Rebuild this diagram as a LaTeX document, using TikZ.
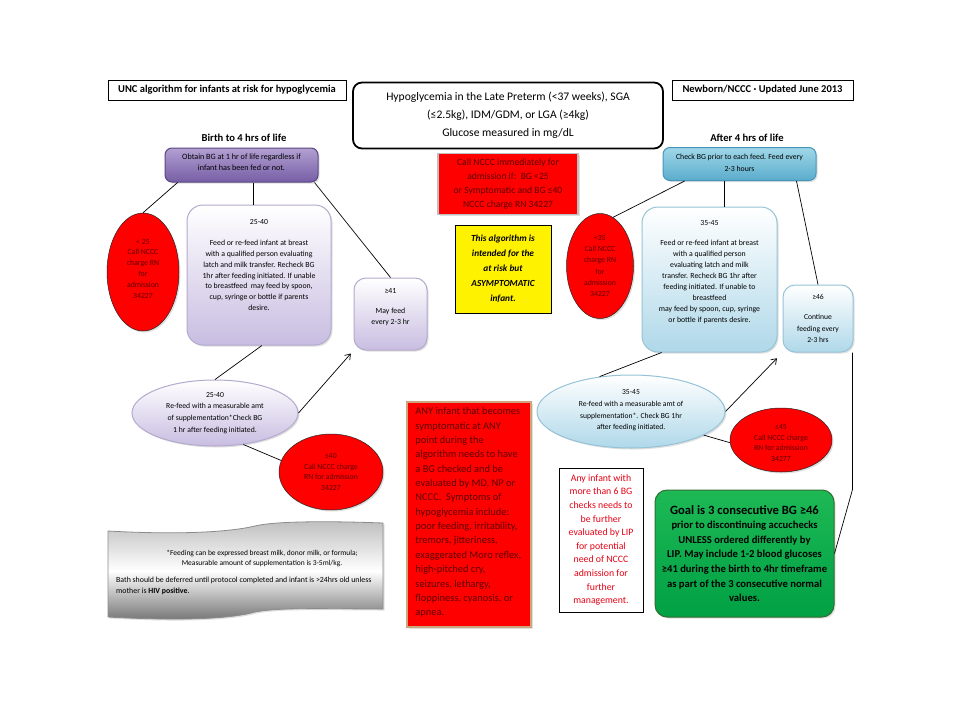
\documentclass[tikz,border=0pt]{standalone}
\usepackage{fontspec}
\setmainfont{Carlito}
\usetikzlibrary{shapes.geometric,arrows.meta,shadows,calc}
\definecolor{maroon}{RGB}{92,0,0}
\definecolor{redtxt}{RGB}{230,0,20}
\definecolor{purpT}{RGB}{178,160,210}
\definecolor{purpB}{RGB}{118,94,165}
\definecolor{purpD}{RGB}{90,70,130}
\definecolor{lavB}{RGB}{200,189,225}
\definecolor{lavD}{RGB}{180,170,205}
\definecolor{blueT}{RGB}{160,215,232}
\definecolor{blueB}{RGB}{90,172,204}
\definecolor{blueD}{RGB}{70,150,185}
\definecolor{lblueB}{RGB}{175,216,233}
\definecolor{lblueD}{RGB}{150,195,215}
\definecolor{grnT}{RGB}{30,185,85}
\definecolor{grnB}{RGB}{0,160,68}
\definecolor{grnD}{RGB}{50,110,50}
\definecolor{tanb}{RGB}{205,165,125}
\tikzset{
  conn/.style={draw=black, line width=0.7pt},
  arr/.style={conn, -{Straight Barb[length=5pt,width=7pt]}},
  tiny/.style={font=\fontsize{7.8}{10.8}\selectfont},
  shad/.style={drop shadow={opacity=.25, shadow xshift=1.5pt, shadow yshift=-1.5pt}},
  titlebox/.style={draw, line width=0.6pt, inner sep=0pt, font=\bfseries\fontsize{10.5}{12}\selectfont},
  heading/.style={font=\bfseries\fontsize{10.6}{12}\selectfont, inner sep=0pt},
  redell/.style={ellipse, draw=black!85, line width=0.5pt, fill=red, inner sep=0pt, shad},
  redlbl/.style={tiny, text=maroon, align=center, inner sep=0pt},
  lavbox/.style={draw=lavD, line width=1pt, top color=white, bottom color=lavB, inner sep=0pt, shad},
  lblbox/.style={draw=lblueD, line width=1pt, top color=white, bottom color=lblueB, inner sep=0pt, shad},
  boxlbl/.style={tiny, align=center, inner sep=0pt},
}
\begin{document}
\begin{tikzpicture}[x=1pt,y=-1pt]
\useasboundingbox (0,0) rectangle (960,720);
\fill[white] (0,0) rectangle (960,720);

% ---------- header ----------
\node[titlebox, minimum width=238pt, minimum height=20pt] (unc) at (227,90) {UNC algorithm for infants at risk for hypoglycemia};
\node[titlebox, minimum width=181pt, minimum height=20pt] (nb) at (762.5,90) {Newborn/NCCC · Updated June 2013};
\node[draw, line width=1.8pt, rounded corners=9pt, minimum width=310pt, minimum height=66pt, inner sep=0pt, align=center,
      font=\fontsize{11.6}{18}\selectfont] (hdr) at (508,115.5)
  {Hypoglycemia in the Late Preterm (<37 weeks), SGA\\(≤2.5kg), IDM/GDM, or LGA (≥4kg)\\Glucose measured in mg/dL};

\node[heading] (birth) at (244,138) {Birth to 4 hrs of life};
\node[heading] (after) at (747,138) {After 4 hrs of life};

% ---------- left tree ----------
\node[draw=purpD, line width=1pt, rounded corners=7pt, top color=purpT, bottom color=purpB, minimum width=153pt, minimum height=34pt, inner sep=0pt, shad,
      label={[boxlbl, font=\fontsize{8.1}{11}\selectfont, yshift=2.5pt]center:{Obtain BG at 1 hr of life regardless if\\infant has been fed or not.}}] (obtain) at (241.5,165) {};

\node[redell, minimum width=72pt, minimum height=118pt,
      label={[redlbl, yshift=3.5pt]center:{< 25\\Call NCCC\\charge RN\\for\\admission\\34227}}] (r25) at (143,272) {};

\node[lavbox, rounded corners=16pt, minimum width=144pt, minimum height=140pt,
      label={[boxlbl, yshift=10pt]center:{25-40\\[10.5pt]Feed or re-feed infant at breast\\with a qualified person evaluating\\latch and milk transfer. Recheck BG\\1hr after feeding initiated. If unable\\to breastfeed\ \ may feed by spoon,\\cup, syringe or bottle if parents\\desire.}}] (lb) at (259,275) {};

\node[lavbox, rounded corners=12pt, minimum width=73pt, minimum height=72pt,
      label={[boxlbl, yshift=7pt]center:{≥41\\[9pt]May feed\\every 2-3 hr}}] (b41) at (390.5,314) {};

\node[ellipse, draw=lavD, line width=1pt, top color=white, bottom color=lavB, minimum width=166pt, minimum height=66pt, inner sep=0pt, shad,
      label={[boxlbl, font=\fontsize{7.7}{11.7}\selectfont]center:{25-40\\Re-feed with a measurable amt\\of supplementation*Check BG\\1 hr after feeding initiated.}}] (le) at (215,413) {};

\node[redell, minimum width=104pt, minimum height=76pt,
      label={[redlbl]center:{≤40\\Call NCCC charge\\RN for admission\\34227}}] (r40) at (331,472) {};

\draw[conn] ($(obtain.south west)!0.085!(obtain.south east)$) -- (r25.north);
\draw[conn] ($(obtain.south west)!0.575!(obtain.south east)$) coordinate (o2) -- (o2 |- lb.north);
\draw[conn] ($(obtain.south west)!0.974!(obtain.south east)$) -- (b41.north);
\draw[conn] ($(lb.south west)!0.52!(lb.south east)$) -- (le.north);
\draw[arr, shorten >=4pt] (le.east) -- (b41.south west);
\draw[conn] (le.-48) -- (r40.167);

% ---------- middle ----------
\node[draw=black!25, line width=1.5pt, fill=red, minimum width=140pt, minimum height=61pt, inner sep=0pt, align=center, shad,
      text=maroon, font=\fontsize{9.6}{14}\selectfont] (callbox) at (508,184)
  {Call NCCC immediately for\\admission if:\ \ BG <25\\or Symptomatic and BG ≤40\\NCCC charge RN 34227};

\node[draw=black, line width=0.8pt, fill=yellow, minimum width=96pt, minimum height=88pt, inner sep=0pt, align=center,
      font=\bfseries\itshape\fontsize{9.3}{15}\selectfont] (yel) at (503,269)
  {This algorithm is\\intended for the\\at risk but\\ASYMPTOMATIC\\infant.};

\node[draw=tanb, line width=1.5pt, fill=red, minimum width=124pt, minimum height=225pt, inner sep=0pt, shad,
      label={[anchor=west, xshift=9pt, yshift=2pt, align=left, inner sep=0pt, text=maroon, font=\fontsize{10.4}{14.35}\selectfont]west:{ANY infant that becomes\\symptomatic at ANY\\point during the\\algorithm needs to have\\a BG checked and be\\evaluated by MD, NP or\\NCCC.\ \ Symptoms of\\hypoglycemia include:\\poor feeding, irritability,\\tremors, jitteriness,\\exaggerated Moro reflex,\\high-pitched cry,\\seizures, lethargy,\\floppiness, cyanosis, or\\apnea.}}] (anybox) at (469,514.5) {};

\node[draw=black, line width=0.8pt, fill=white, minimum width=84pt, minimum height=144pt, inner sep=0pt, align=center,
      text=redtxt, font=\fontsize{9.8}{13.6}\selectfont] (anyinf) at (601,540)
  {Any infant with\\more than 6 BG\\checks needs to\\be further\\evaluated by LIP\\for potential\\need of NCCC\\admission for\\further\\management.};

% ---------- right tree ----------
\node[draw=blueD, line width=1pt, rounded corners=7pt, top color=blueT, bottom color=blueB, minimum width=153pt, minimum height=33pt, inner sep=0pt, shad,
      label={[boxlbl, font=\fontsize{7.8}{12}\selectfont, yshift=1pt]center:{Check BG prior to each feed. Feed every\\2-3 hours}}] (check) at (739.5,164) {};

\node[redell, minimum width=67pt, minimum height=105pt,
      label={[redlbl, font=\fontsize{7.8}{11.2}\selectfont]center:{<35\\Call NCCC\\charge RN\\for\\admission\\34227}}] (r35) at (600,266) {};

\node[lblbox, rounded corners=16pt, minimum width=135pt, minimum height=145pt,
      label={[boxlbl, font=\fontsize{7.8}{11}\selectfont, yshift=7pt]center:{35-45\\[9pt]Feed or re-feed infant at breast\\with a qualified person\\evaluating latch and milk\\transfer. Recheck BG 1hr after\\feeding initiated. If unable to\\breastfeed\\may feed by spoon, cup, syringe\\or bottle if parents desire.}}] (rb) at (709.5,279.5) {};

\node[lblbox, rounded corners=12pt, minimum width=70pt, minimum height=67pt,
      label={[boxlbl, font=\fontsize{7.6}{11.5}\selectfont]center:{≥46\\[9pt]Continue\\feeding every\\2-3 hrs}}] (b46) at (818,318.5) {};

\node[ellipse, draw=lblueD, line width=1pt, top color=white, bottom color=lblueB, minimum width=188pt, minimum height=73pt, inner sep=0pt, shad,
      label={[boxlbl, font=\fontsize{7.6}{11.7}\selectfont, yshift=1pt]center:{35-45\\Re-feed with a measurable amt of\\supplementation*. Check BG 1hr\\after feeding initiated.}}] (re) at (631,411.5) {};

\node[redell, minimum width=102pt, minimum height=64pt,
      label={[redlbl, yshift=-3pt]center:{≤45\\Call NCCC charge\\RN for admission\\34277}}] (r45) at (781,440) {};

\node[draw=grnD, line width=1pt, rounded corners=12pt, top color=grnT, bottom color=grnB, minimum width=179pt, minimum height=127pt, inner sep=0pt, align=center, shad,
      font=\bfseries\fontsize{10.6}{14.6}\selectfont] (goal) at (744.5,553.5)
  {{\fontsize{12.6}{14.6}\selectfont Goal is 3 consecutive BG ≥46}\\prior to discontinuing accuchecks\\UNLESS ordered differently by\\LIP. May include 1-2 blood glucoses\\≥41 during the birth to 4hr timeframe\\as part of the 3 consecutive normal\\values.};

\draw[conn] ($(check.south west)!0.144!(check.south east)$) -- (r35.75);
\draw[conn] ($(check.south west)!0.4!(check.south east)$) coordinate (c2) -- (c2 |- rb.north);
\draw[conn] ($(check.south west)!0.87!(check.south east)$) -- (b46.north);
\draw[conn] ($(rb.south west)!0.148!(rb.south east)$) -- (re.132);
\draw[arr, shorten >=8pt] (re.east) -- (b46.south west);
\draw[conn] (re.-18) -- (r45.183);
\draw[conn] ($(b46.south east)+(-1,0)$) coordinate (b46c) -- (b46c |- goal.north) coordinate (gbend) -- (goal.east);

% ---------- bath note ----------
\path[draw=black!45, line width=0.8pt, top color=black!25, bottom color=black!55, middle color=white, shad]
  (108,531) .. controls (180,535) and (230,532) .. (255,526)
  .. controls (275,521) and (330,521) .. (383,523)
  -- (383,609)
  .. controls (330,609) and (280,607) .. (255,612)
  .. controls (230,619) and (180,621) .. (108,617) -- cycle;
\node[align=center, inner sep=0pt, font=\fontsize{7.5}{10.5}\selectfont] (feed) at (262,558.5)
  {*Feeding can be expressed breast milk, donor milk, or formula;\\Measurable amount of supplementation is 3-5ml/kg.};
\node[anchor=north west, align=left, inner sep=0pt, font=\fontsize{7.85}{11.3}\selectfont] (bath) at (116,577)
  {Bath should be deferred until protocol completed and infant is >24hrs old unless\\mother is \textbf{HIV positive}.};
\end{tikzpicture}
\end{document}
